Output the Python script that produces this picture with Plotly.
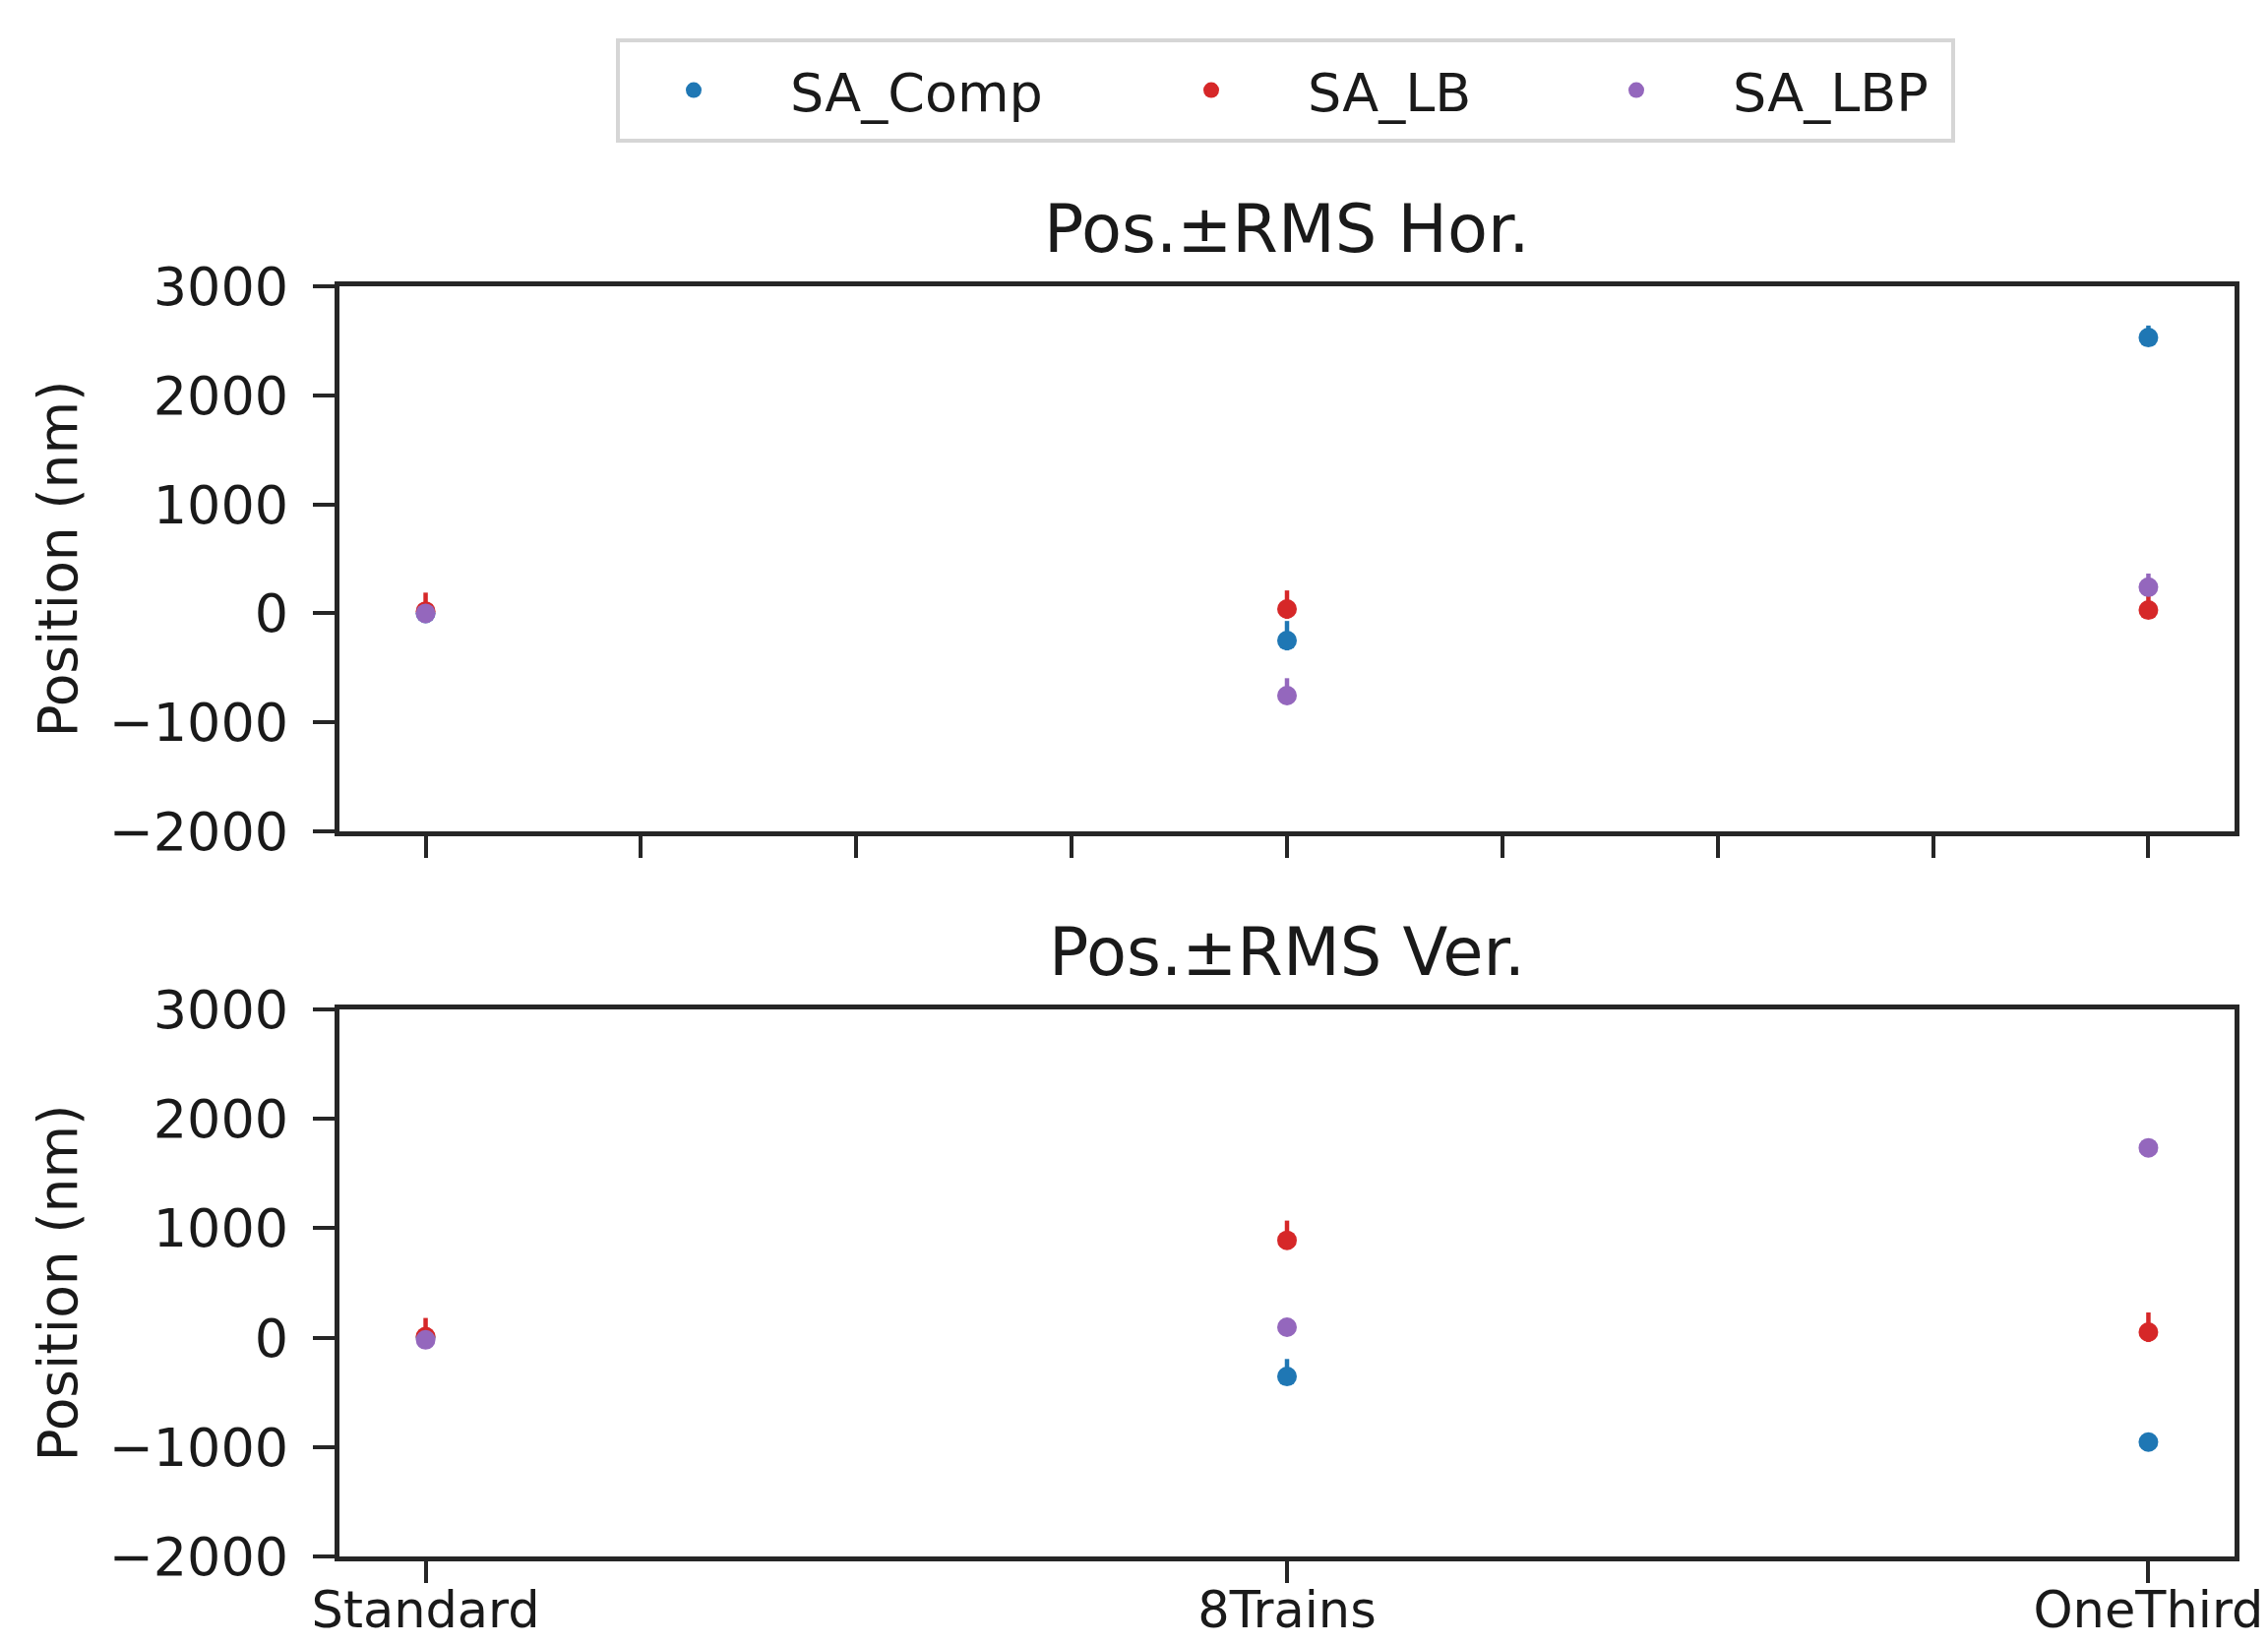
import plotly.graph_objects as go

# ---- data ----
categories = ["Standard", "8Trains", "OneThird"]
x_pos = [0, 1, 2]
series_names = ["SA_Comp", "SA_LB", "SA_LBP"]
colors = ["#1f77b4", "#d62728", "#9467bd"]

hor_comp = [0, -250, 2530]
hor_comp_up = [60, 180, 110]
hor_comp_dn = [40, 90, 60]
hor_lb = [20, 40, 30]
hor_lb_up = [170, 170, 150]
hor_lb_dn = [60, 90, 60]
hor_lbp = [0, -755, 240]
hor_lbp_up = [60, 160, 125]
hor_lbp_dn = [40, 60, 60]

ver_comp = [0, -355, -955]
ver_comp_up = [60, 160, 60]
ver_comp_dn = [40, 60, 40]
ver_lb = [10, 890, 50]
ver_lb_up = [170, 180, 180]
ver_lb_dn = [90, 80, 90]
ver_lbp = [-20, 95, 1735]
ver_lbp_up = [60, 60, 60]
ver_lbp_dn = [40, 40, 40]

top_ticks = [0, 0.25, 0.5, 0.75, 1.0, 1.25, 1.5, 1.75, 2.0]
y_ticks = [-2000, -1000, 0, 1000, 2000, 3000]
y_ticktext = ["\u22122000", "\u22121000", "0", "1000", "2000", "3000"]
titles = ["Pos.\u00b1RMS Hor.", "Pos.\u00b1RMS Ver."]
y_title = "Position (nm)"

# ---- figure geometry (pixels) ----
W, H = 2305, 1672
PX_L, PX_R = 345, 2271
PX_T, PX_B = 291, 1582
pw = PX_R - PX_L
ph = PX_B - PX_T


def fx(px):
    return (px - PX_L) / pw


def fy(py):
    return (PX_B - py) / ph


top_dom = [fy(845), 1.0]
bot_dom = [0.0, fy(1026)]

FONT = "DejaVu Sans"
TXT = "#1a1a1a"
LINE = "#262626"
MSIZE = 20
legend_ids = ["legend", "legend2", "legend3"]

fig = go.Figure()

hor = [(hor_comp, hor_comp_up, hor_comp_dn), (hor_lb, hor_lb_up, hor_lb_dn), (hor_lbp, hor_lbp_up, hor_lbp_dn)]
ver = [(ver_comp, ver_comp_up, ver_comp_dn), (ver_lb, ver_lb_up, ver_lb_dn), (ver_lbp, ver_lbp_up, ver_lbp_dn)]

for i, (vals, up, dn) in enumerate(hor):
    fig.add_trace(go.Scatter(
        x=x_pos, y=vals, mode="markers", name=series_names[i],
        legendgroup=series_names[i], showlegend=True, legend=legend_ids[i],
        marker=dict(color=colors[i], size=MSIZE, line=dict(width=0)),
        error_y=dict(type="data", symmetric=False, array=up, arrayminus=dn, visible=True,
                     thickness=4.5, width=0, color=colors[i]),
        xaxis="x", yaxis="y"))
for i, (vals, up, dn) in enumerate(ver):
    fig.add_trace(go.Scatter(
        x=x_pos, y=vals, mode="markers", name=series_names[i],
        legendgroup=series_names[i], showlegend=False,
        marker=dict(color=colors[i], size=MSIZE, line=dict(width=0)),
        error_y=dict(type="data", symmetric=False, array=up, arrayminus=dn, visible=True,
                     thickness=4.5, width=0, color=colors[i]),
        xaxis="x2", yaxis="y2"))

axis_common = dict(showline=True, mirror=True, linecolor=LINE, linewidth=5,
                   ticks="outside", ticklen=22, tickwidth=4, tickcolor=LINE,
                   showgrid=False, zeroline=False, automargin=False,
                   ticklabeloverflow="allow")

yfont = dict(family=FONT, size=54, color=TXT)
xfont = dict(family=FONT, size=51, color=TXT)
ytitle = dict(text=y_title, font=dict(family=FONT, size=55, color=TXT), standoff=16)

# legend item marker pixel positions in reference
leg_marker_px = [703, 1229, 1661]
ITEMW = 186
legends = {}
for i, lid in enumerate(legend_ids):
    legends[lid] = dict(orientation="h", x=fx(leg_marker_px[i] - ITEMW / 2 - 3), xanchor="left",
                        y=fy(92), yanchor="middle", borderwidth=0, bgcolor="rgba(0,0,0,0)",
                        font=dict(family=FONT, size=54, color=TXT), itemwidth=ITEMW)

fig.update_layout(
    width=W, height=H,
    margin=dict(l=PX_L, r=W - PX_R, t=PX_T, b=H - PX_B, autoexpand=False),
    paper_bgcolor="white", plot_bgcolor="white",
    font=dict(family=FONT, size=54, color=TXT),
    xaxis=dict(domain=[0, 1], anchor="y", range=[-0.1, 2.1],
               tickmode="array", tickvals=top_ticks, showticklabels=False,
               tickfont=xfont, **axis_common),
    yaxis=dict(domain=top_dom, anchor="x", range=[-2000, 3000],
               tickmode="array", tickvals=y_ticks, ticktext=y_ticktext,
               ticklabelstandoff=14, title=ytitle, tickfont=yfont, **axis_common),
    xaxis2=dict(domain=[0, 1], anchor="y2", range=[-0.1, 2.1],
                tickmode="array", tickvals=x_pos, ticktext=categories,
                ticklabelstandoff=-16, tickfont=xfont, **axis_common),
    yaxis2=dict(domain=bot_dom, anchor="x2", range=[-2000, 3000],
                tickmode="array", tickvals=y_ticks, ticktext=y_ticktext,
                ticklabelstandoff=14, title=ytitle, tickfont=yfont, **axis_common),
    shapes=[dict(type="rect", xref="paper", yref="paper",
                 x0=fx(628), x1=fx(1985), y0=fy(143), y1=fy(41),
                 line=dict(color="#d6d6d6", width=4), fillcolor="rgba(0,0,0,0)", layer="below")],
    annotations=[
        dict(text=titles[0], x=0.5, xref="paper", y=top_dom[1], yref="paper",
             xanchor="center", yanchor="bottom", yshift=17, showarrow=False,
             font=dict(family=FONT, size=67, color=TXT)),
        dict(text=titles[1], x=0.5, xref="paper", y=bot_dom[1], yref="paper",
             xanchor="center", yanchor="bottom", yshift=17, showarrow=False,
             font=dict(family=FONT, size=67, color=TXT)),
    ],
    **legends,
)

fig.write_html("out.html")
